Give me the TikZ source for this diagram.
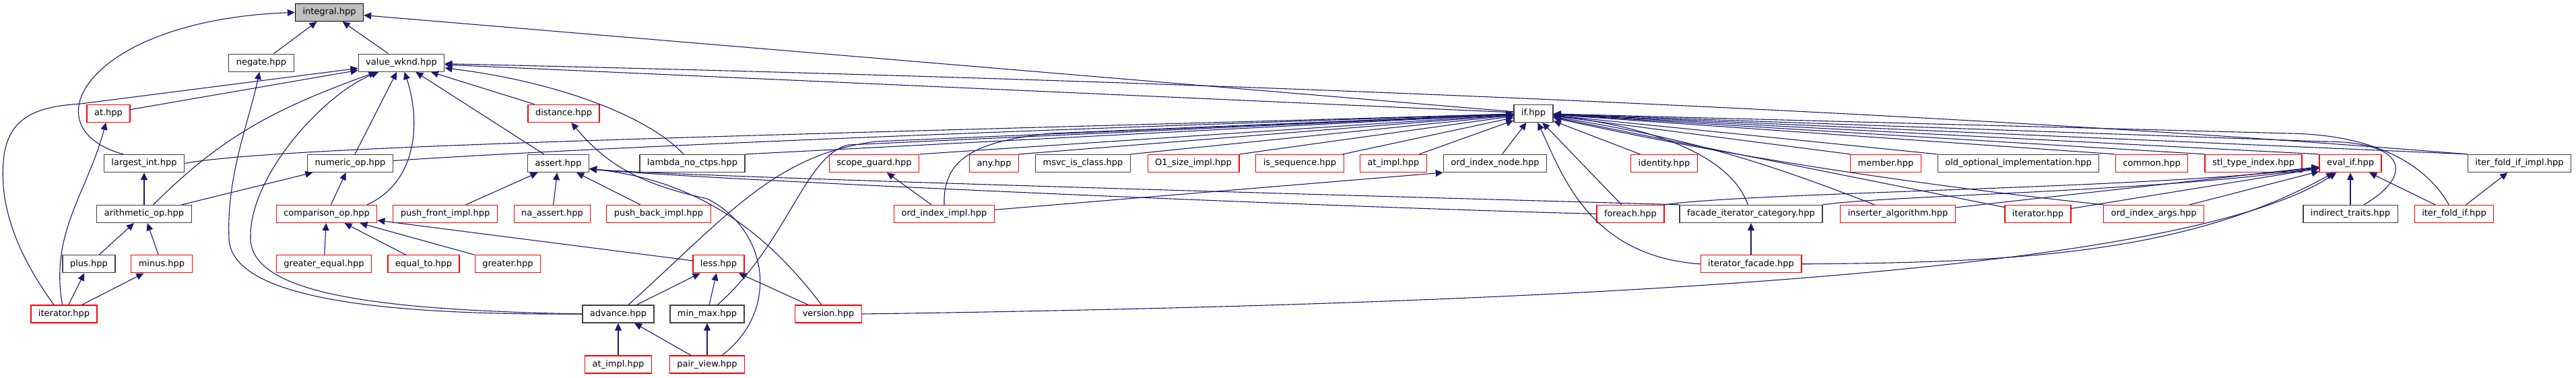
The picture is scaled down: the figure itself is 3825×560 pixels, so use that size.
\documentclass[tikz,border=0pt]{standalone}
\usepackage{fontspec}
\setmainfont{DejaVu Sans}
\usepackage{tikz}
\usetikzlibrary{arrows.meta}
\usepackage{xcolor}
\definecolor{edgeblue}{HTML}{191970}
\definecolor{boxgrey}{HTML}{404040}
\definecolor{rootfill}{HTML}{BFBFBF}
\definecolor{boxred}{HTML}{FF0000}

\begin{document}
\begin{tikzpicture}[x=1pt,y=1pt,
  file/.style={draw=boxgrey,line width=1.3pt,fill=white,minimum height=26pt,inner xsep=11pt,inner ysep=0pt,font=\fontsize{13}{15}\selectfont},
  trunc/.style={file,draw=boxred},
  root/.style={file,draw=black,fill=rootfill},
  inc/.style={edgeblue,line width=1.1pt,-{Triangle[length=11pt,width=10pt]}}]
\useasboundingbox (0,0) rectangle (3825,560);

\node[root]  (integral) at (489,541.6) {integral.hpp};

\node[file]  (negate) at (388,466.8) {negate.hpp};
\node[file]  (valuewknd) at (596,466.8) {value\_wknd.hpp};

\node[trunc] (ath) at (161,391.8) {at.hpp};
\node[trunc] (distance) at (837,391.8) {distance.hpp};
\node[file]  (ifh) at (2277,391.8) {if.hpp};

\node[file]  (largestint) at (214,317.5) {largest\_int.hpp};
\node[file]  (numericop) at (520,317.5) {numeric\_op.hpp};
\node[file]  (assert) at (829,317.5) {assert.hpp};
\node[file]  (lambda) at (1028,317.5) {lambda\_no\_ctps.hpp};
\node[trunc] (scopeguard) at (1298,317.5) {scope\_guard.hpp};
\node[trunc] (any) at (1476,317.5) {any.hpp};
\node[file]  (msvc) at (1608,317.5) {msvc\_is\_class.hpp};
\node[trunc] (osize) at (1772,317.5) {O1\_size\_impl.hpp};
\node[trunc] (issequence) at (1930,317.5) {is\_sequence.hpp};
\node[trunc] (atimpla) at (2069,317.5) {at\_impl.hpp};
\node[file]  (ordindexnode) at (2220,317.5) {ord\_index\_node.hpp};
\node[trunc] (identity) at (2471,317.5) {identity.hpp};
\node[trunc] (member) at (2800,317.5) {member.hpp};
\node[file]  (oldoptional) at (2997,317.5) {old\_optional\_implementation.hpp};
\node[trunc] (common) at (3195,317.5) {common.hpp};
\node[trunc] (stltypeindex) at (3346,317.5) {stl\_type\_index.hpp};
\node[trunc] (evalif) at (3490,317.5) {eval\_if.hpp};
\node[file]  (iterfoldifimpl) at (3741,317.5) {iter\_fold\_if\_impl.hpp};

\node[file]  (arithmeticop) at (214,242.5) {arithmetic\_op.hpp};
\node[trunc] (comparisonop) at (485,242.5) {comparison\_op.hpp};
\node[trunc] (pushfront) at (661,242.5) {push\_front\_impl.hpp};
\node[trunc] (naassert) at (820,242.5) {na\_assert.hpp};
\node[trunc] (pushback) at (978,242.5) {push\_back\_impl.hpp};
\node[trunc] (ordindeximpl) at (1402,242.5) {ord\_index\_impl.hpp};
\node[trunc] (foreach) at (2421,242.5) {foreach.hpp};
\node[file]  (facade) at (2600,242.5) {facade\_iterator\_category.hpp};
\node[trunc] (inserter) at (2818,242.5) {inserter\_algorithm.hpp};
\node[trunc] (iteratorr) at (3026,242.5) {iterator.hpp};
\node[trunc] (ordindexargs) at (3198,242.5) {ord\_index\_args.hpp};
\node[file]  (indirecttraits) at (3490,242.5) {indirect\_traits.hpp};
\node[trunc] (iterfoldif) at (3644,242.5) {iter\_fold\_if.hpp};

\node[file]  (plus) at (132,168.2) {plus.hpp};
\node[trunc] (minus) at (240,168.2) {minus.hpp};
\node[trunc] (greaterequal) at (481,168.2) {greater\_equal.hpp};
\node[trunc] (equalto) at (629,168.2) {equal\_to.hpp};
\node[trunc] (greater) at (754,168.2) {greater.hpp};
\node[trunc] (less) at (1067,168.2) {less.hpp};
\node[trunc] (iteratorfacade) at (2600,168.2) {iterator\_facade.hpp};

\node[trunc] (iteratorl) at (95,94) {iterator.hpp};
\node[file]  (advance) at (918,94) {advance.hpp};
\node[file]  (minmax) at (1050,94) {min\_max.hpp};
\node[trunc] (version) at (1230,94) {version.hpp};

\node[trunc] (atimplb) at (918,19) {at\_impl.hpp};
\node[trunc] (pairview) at (1050,19) {pair\_view.hpp};

\draw[inc] (negate) -- (integral);
\draw[inc] (valuewknd) -- (integral);
\draw[inc] ([xshift=-31pt]largestint.north) .. controls (40,370) and (130,530) .. (integral.west);
\draw[inc] (ifh) -- (integral);

\draw[inc] (ifh) -- (valuewknd);
\draw[inc] (iterfoldifimpl.north west) .. controls (3000,385) and (2000,435) .. (valuewknd);
\draw[inc] (ath) -- (valuewknd);
\draw[inc] ([xshift=-15pt]iteratorl.north) .. controls (20,190) and (0,260) .. (5,320) .. controls (10,390) and (60,402) .. (120,406) -- (valuewknd);
\draw[inc] (arithmeticop) to[out=45,in=200] (valuewknd);
\draw[inc] (advance.west) .. controls (550,100) and (368,125) .. (372,210) .. controls (372,300) and (480,420) .. (valuewknd);
\draw[inc] (numericop) -- (valuewknd);
\draw[inc] ([xshift=60pt]comparisonop.north) .. controls (620,290) and (625,380) .. (valuewknd);
\draw[inc] (assert) -- (valuewknd);
\draw[inc] (distance) -- (valuewknd);
\draw[inc] ([xshift=-13pt]lambda.north) .. controls (960,390) and (820,440) .. (valuewknd);

\draw[inc] (advance.west) .. controls (550,92) and (345,120) .. (340,205) .. controls (336,300) and (370,380) .. (negate);
\draw[inc] (iteratorl) to[out=100,in=-105] (ath);

\draw[inc] (arithmeticop) -- (largestint);
\draw[inc] (largestint.east) .. controls (420,345) and (1200,360) .. (ifh);
\draw[inc] (arithmeticop) -- (numericop);
\draw[inc] ([yshift=4pt]numericop.east) .. controls (800,336) and (1300,360) .. (ifh);
\draw[inc] (plus) -- (arithmeticop);
\draw[inc] (minus) -- (arithmeticop);
\draw[inc] (iteratorl) -- (plus);
\draw[inc] (iteratorl) -- (minus);

\draw[inc] (comparisonop) -- (numericop);
\draw[inc] (greaterequal) -- (comparisonop);
\draw[inc] (equalto) -- (comparisonop);
\draw[inc] (greater) -- (comparisonop);
\draw[inc] (less) -- (comparisonop);

\draw[inc] (pushfront) -- (assert);
\draw[inc] (naassert) -- (assert);
\draw[inc] (pushback) -- (assert);
\draw[inc] (version) .. controls (1120,240) and (1010,295) .. ([yshift=-8pt]assert.east);
\draw[inc] (facade.north west) .. controls (2000,270) and (1000,298) .. ([yshift=-8pt]assert.east);
\draw[inc] (foreach.west) .. controls (1900,255) and (1000,296) .. ([yshift=-8pt]assert.east);

\draw[inc] ([xshift=22pt]pairview.north) .. controls (1160,100) and (1140,220) .. (1050,265) .. controls (960,285) and (905,310) .. (distance);
\draw[inc] (lambda.north east) -- (ifh);

\draw[inc] (advance) -- (less);
\draw[inc] (minmax) -- (less);
\draw[inc] (version) -- (less);
\draw[inc] (atimplb) -- (advance);
\draw[inc] (pairview) -- (advance);
\draw[inc] (pairview) -- (minmax);
\draw[inc] (advance) .. controls (1080,240) and (1150,330) .. (1300,350) -- (ifh);
\draw[inc] (minmax) .. controls (1170,200) and (1195,330) .. (1260,345) -- (ifh);
\draw[inc] (version.east) .. controls (2400,110) and (3250,160) .. (evalif);

\draw[inc] (scopeguard.north east) -- (ifh);
\draw[inc] (ordindeximpl) -- (scopeguard);
\draw[inc] (ordindeximpl.north) .. controls (1400,320) and (1440,350) .. (1560,362) -- (ifh);
\draw[inc] (ordindeximpl) -- (ordindexnode.south west);
\draw[inc] (any.north east) -- (ifh);
\draw[inc] (msvc.north east) -- (ifh);
\draw[inc] (osize.north east) -- (ifh);
\draw[inc] (issequence) -- (ifh);
\draw[inc] (atimpla) -- (ifh);
\draw[inc] (ordindexnode) -- (ifh);

\draw[inc] (iteratorfacade.west) .. controls (2360,180) and (2320,300) .. (ifh);
\draw[inc] (foreach) -- (ifh);
\draw[inc] (identity) -- (ifh);
\draw[inc] (facade) .. controls (2570,330) and (2450,372) .. (ifh);
\draw[inc] (inserter) to[bend right=6] (ifh);
\draw[inc] (iteratorr) -- (ifh);
\draw[inc] (ordindexargs.north west) .. controls (2900,280) and (2600,320) .. (ifh);
\draw[inc] (member.north west) -- (ifh);
\draw[inc] (oldoptional.north west) -- (ifh);
\draw[inc] (common.north west) -- (ifh);
\draw[inc] (stltypeindex.north west) -- (ifh);
\draw[inc] (evalif.north west) -- (ifh);
\draw[inc] (iterfoldifimpl.north west) -- (ifh);
\draw[inc] ([xshift=20pt]indirecttraits.north) .. controls (3585,300) and (3575,350) .. (3450,350) -- (ifh);
\draw[inc] (iterfoldif) .. controls (3600,320) and (3520,360) .. (3400,362) -- (ifh);

\draw[inc] (iteratorfacade) -- (facade);
\draw[inc] (iteratorfacade.east) .. controls (3000,170) and (3250,185) .. (evalif);
\draw[inc] (foreach.north east) .. controls (2600,275) and (3200,280) .. (evalif);
\draw[inc] (facade.north east) .. controls (2800,270) and (3200,275) .. (evalif);
\draw[inc] (inserter) -- (evalif);
\draw[inc] (iteratorr) -- (evalif);
\draw[inc] (ordindexargs) -- (evalif);
\draw[inc] (indirecttraits) -- (evalif);
\draw[inc] (iterfoldif) -- (evalif);
\draw[inc] (iterfoldif) -- (iterfoldifimpl);
\end{tikzpicture}
\end{document}
